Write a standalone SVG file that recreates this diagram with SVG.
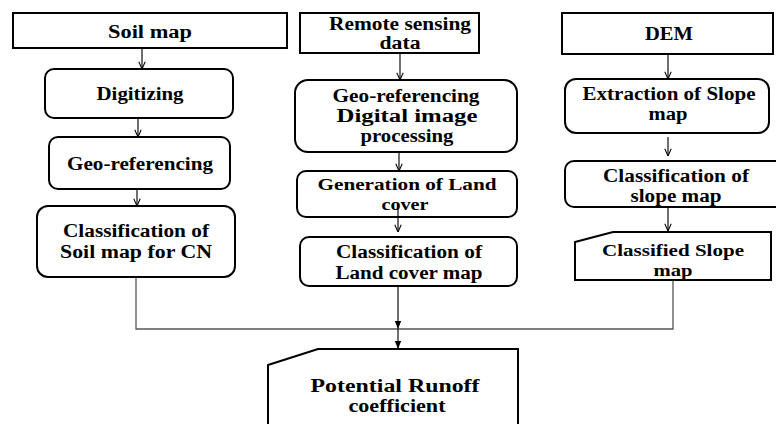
<svg xmlns="http://www.w3.org/2000/svg" width="776" height="424" viewBox="0 0 776 424">
<style>
.box{fill:#fff;stroke:#000;stroke-width:2}
.t{font-family:"Liberation Serif","Times New Roman",serif;font-weight:bold;font-size:18px;fill:#000;text-anchor:middle}
.s{font-size:17px}
.c{fill:none;stroke:#222;stroke-width:1.3}
.g{fill:none;stroke:#555;stroke-width:1.3}
</style>
<defs>
<marker id="open" viewBox="0 0 10 10" refX="10" refY="5" markerWidth="8" markerHeight="9" orient="auto" markerUnits="userSpaceOnUse">
<path d="M1,1 L10,5 L1,9" fill="none" stroke="#000" stroke-width="1.3"/>
</marker>
<marker id="fill" viewBox="0 0 10 10" refX="10" refY="5" markerWidth="8" markerHeight="8" orient="auto" markerUnits="userSpaceOnUse">
<path d="M0,1 L10,5 L0,9 Z" fill="#000"/>
</marker>
</defs>
<rect width="776" height="424" fill="#fff"/>
<g id="connectors">
<line class="c" x1="142" y1="48" x2="142" y2="69" marker-end="url(#open)"/>
<line class="c" x1="138" y1="118" x2="138" y2="137" marker-end="url(#open)"/>
<line class="c" x1="137" y1="189" x2="137" y2="206" marker-end="url(#open)"/>
<line class="c" x1="400" y1="53" x2="400" y2="80" marker-end="url(#open)"/>
<line class="c" x1="399" y1="152" x2="399" y2="171" marker-end="url(#open)"/>
<line class="c" x1="398" y1="204" x2="398" y2="232" marker-end="url(#open)"/>
<line class="c" x1="668" y1="54" x2="668" y2="79" marker-end="url(#open)"/>
<line class="c" x1="668" y1="137" x2="668" y2="156" marker-end="url(#open)"/>
<line class="c" x1="668" y1="207" x2="668" y2="231" marker-end="url(#open)"/>
<polyline class="g" points="136,277 136,329 673,329 673,280"/>
<line class="c" x1="398" y1="286" x2="398" y2="329" marker-end="url(#fill)"/>
<line class="c" x1="398" y1="329" x2="398" y2="349" marker-end="url(#fill)"/>
</g>
<g id="soil-map">
<rect class="box" x="13" y="13" width="274" height="35"/>
<text class="t" x="150" y="38" textLength="84" lengthAdjust="spacingAndGlyphs">Soil  map</text>
</g>
<g id="digitizing">
<rect class="box" x="45" y="69" width="188" height="49" rx="9"/>
<text class="t" x="140" y="100" textLength="87" lengthAdjust="spacingAndGlyphs">Digitizing</text>
</g>
<g id="geo-referencing-soil">
<rect class="box" x="49" y="137" width="181" height="52" rx="9"/>
<text class="t" x="140" y="170" textLength="146" lengthAdjust="spacingAndGlyphs">Geo-referencing</text>
</g>
<g id="classification-soil">
<rect class="box" x="37" y="206" width="198" height="71" rx="11"/>
<text class="t" x="136" y="237" textLength="146" lengthAdjust="spacingAndGlyphs">Classification of</text>
<text class="t" x="136" y="258" textLength="152" lengthAdjust="spacingAndGlyphs">Soil  map for CN</text>
</g>
<g id="remote-sensing">
<rect class="box" x="300" y="13" width="179" height="40"/>
<text class="t" x="400" y="30" textLength="142" lengthAdjust="spacingAndGlyphs">Remote sensing</text>
<text class="t" x="400" y="49" textLength="41" lengthAdjust="spacingAndGlyphs">data</text>
</g>
<g id="geo-digital">
<rect class="box" x="295" y="80" width="222" height="72" rx="13"/>
<text class="t" x="406" y="102" textLength="147" lengthAdjust="spacingAndGlyphs">Geo-referencing</text>
<text class="t" x="407" y="122" textLength="141" lengthAdjust="spacingAndGlyphs">Digital image</text>
<text class="t" x="407" y="142" textLength="93" lengthAdjust="spacingAndGlyphs">processing</text>
</g>
<g id="generation">
<rect class="box" x="297" y="171" width="220" height="46" rx="9" fill-opacity="0"/>
<text class="t s" x="407" y="190" textLength="179" lengthAdjust="spacingAndGlyphs">Generation of Land</text>
<text class="t s" x="405" y="210" textLength="47" lengthAdjust="spacingAndGlyphs">cover</text>
</g>
<g id="classification-land">
<rect class="box" x="300" y="237" width="217" height="49" rx="9"/>
<text class="t" x="409" y="258" textLength="146" lengthAdjust="spacingAndGlyphs">Classification of</text>
<text class="t" x="409" y="279" textLength="147" lengthAdjust="spacingAndGlyphs">Land cover map</text>
</g>
<g id="dem">
<rect class="box" x="562" y="13" width="211" height="41"/>
<text class="t" x="669" y="40" textLength="48" lengthAdjust="spacingAndGlyphs">DEM</text>
</g>
<g id="extraction">
<rect class="box" x="565" y="79" width="204" height="54" rx="11"/>
<text class="t" x="669" y="100" textLength="173" lengthAdjust="spacingAndGlyphs">Extraction of Slope</text>
<text class="t" x="668" y="120" textLength="39" lengthAdjust="spacingAndGlyphs">map</text>
</g>
<g id="classification-slope">
<rect class="box" x="565" y="161" width="220" height="46" rx="9"/>
<text class="t" x="676" y="182" textLength="146" lengthAdjust="spacingAndGlyphs">Classification of</text>
<text class="t" x="676" y="202" textLength="91" lengthAdjust="spacingAndGlyphs">slope map</text>
</g>
<g id="classified-slope">
<path class="box" d="M575,242 L613,232 L771,232 L771,280 L575,280 Z"/>
<text class="t s" x="673" y="256" textLength="142" lengthAdjust="spacingAndGlyphs">Classified Slope</text>
<text class="t s" x="673" y="276" textLength="39" lengthAdjust="spacingAndGlyphs">map</text>
</g>
<g id="potential-runoff">
<path class="box" d="M268,365 L318,349 L518,349 L518,430 L268,430 Z"/>
<text class="t" x="395" y="392" textLength="169" lengthAdjust="spacingAndGlyphs">Potential Runoff</text>
<text class="t" x="397" y="412" textLength="97" lengthAdjust="spacingAndGlyphs">coefficient</text>
</g>
</svg>
